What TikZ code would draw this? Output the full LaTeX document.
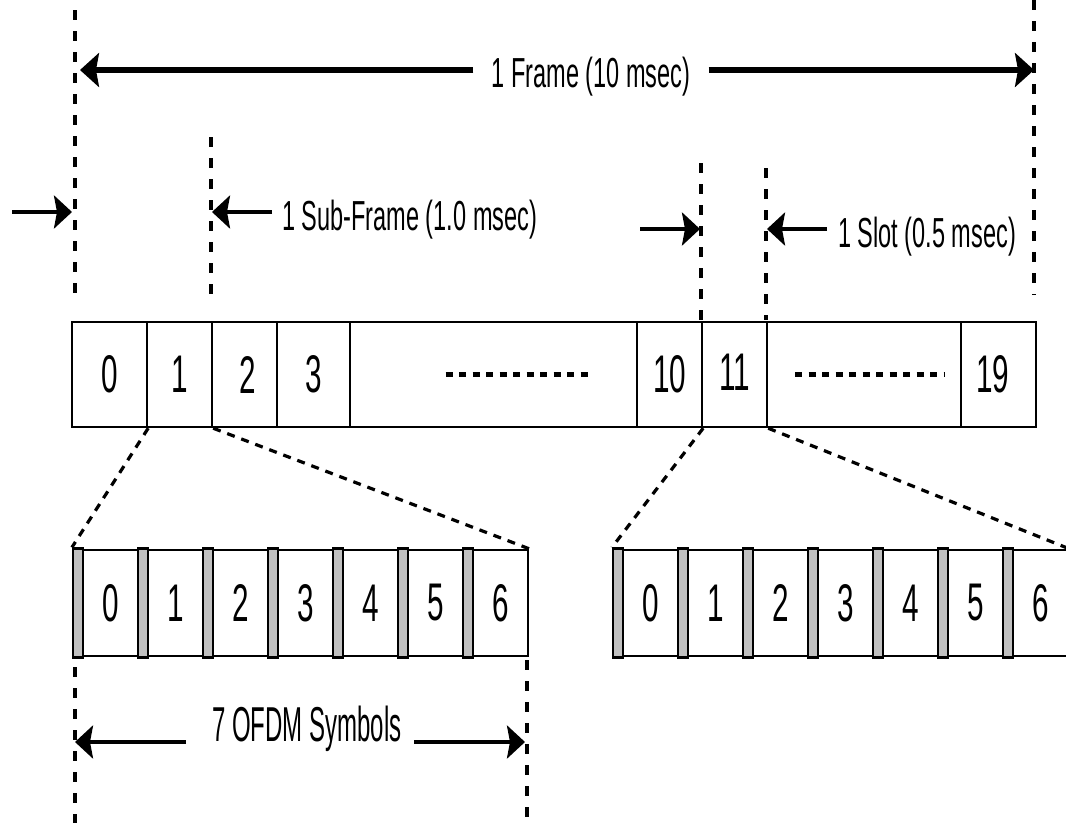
\documentclass[tikz,border=0pt]{standalone}
\usepackage{fontspec}
\setmainfont{Liberation Sans}[FakeStretch=0.56]
\usetikzlibrary{arrows.meta}
\definecolor{cpgray}{RGB}{192,192,192}
\begin{document}
\begin{tikzpicture}[x=1pt,y=-1pt,
  guide/.style={line width=3.2pt, dash pattern=on 10pt off 11pt},
  slant/.style={line width=3.2pt, dash pattern=on 8pt off 7pt},
  dotrow/.style={line width=4.5pt, dash pattern=on 7pt off 6.5pt},
  bigarrow/.style={line width=5.5pt, -{Stealth[length=19pt,width=34pt,inset=3pt]}},
  smallarrow/.style={line width=4.5pt, -{Stealth[length=18pt,width=33pt,inset=3pt]}},
  cell/.style={draw, line width=2.4pt, inner sep=0pt, minimum height=105pt, font=\fontsize{53}{60}\selectfont},
  symbody/.style={draw, line width=2.4pt, inner sep=0pt, minimum width=55pt, minimum height=106pt, font=\fontsize{53}{60}\selectfont},
  cpbar/.style={draw, fill=cpgray, line width=2.2pt, inner sep=0pt, minimum width=10pt, minimum height=109pt},
  toplabel/.style={inner sep=0pt, font=\fontsize{42}{48}\selectfont}
  ]
\useasboundingbox (0,0) rectangle (1066,823);
\clip (0,0) rectangle (1066,823);

% ---- main frame bar ----
\node[cell, minimum width=75pt]  (c0)  at (109.5,374.5) {0};
\node[cell, minimum width=65pt]  (c1)  at (179.5,374.5) {1};
\node[cell, minimum width=65pt]  (c2)  at (244.5,374.5) {\hspace*{6pt}2};
\node[cell, minimum width=73pt]  (c3)  at (313.5,374.5) {3};
\node[cell, minimum width=287pt] (cd1) at (493.5,374.5) {};
\node[cell, minimum width=65pt]  (c10) at (669.5,374.5) {10};
\node[cell, minimum width=65pt]  (c11) at (734.5,374.5) {\raisebox{5pt}{11}};
\node[cell, minimum width=194pt] (cd2) at (864,374.5) {};
\node[cell, minimum width=75pt]  (c19) at (998.5,374.5) {19\hspace*{12pt}};
\draw[dotrow] ([xshift=-48pt]cd1.center) -- ([xshift=97pt]cd1.center);
\draw[dotrow] ([xshift=-69pt]cd2.center) -- ([xshift=80pt]cd2.center);

% ---- OFDM symbol rows ----
\foreach \k in {0,...,6} {
  \node[symbody] (ls\k) at ({73+65*\k+37.5},603) {\k};
  \node[cpbar]   (lcp\k) at ({73+65*\k+5},603) {};
  \node[symbody] (rs\k) at ({613+65*\k+37.5},603) {\k};
  \node[cpbar]   (rcp\k) at ({613+65*\k+5},603) {};
}

% ---- zoom connectors ----
\draw[slant] (c0.south east) -- (lcp0.north west);
\draw[slant] (c1.south east) -- (ls6.north east);
\draw[slant] (c10.south east) -- (rcp0.north west);
\draw[slant] (c11.south east) -- (rs6.north east);

% ---- vertical guides ----
\coordinate (g1t) at (75,10);   \coordinate (g1b) at (75,297);
\coordinate (g2t) at (1034,0);  \coordinate (g2b) at (1034,295);
\coordinate (g3t) at (211,137); \coordinate (g3b) at (211,303);
\coordinate (g4t) at (701,163); \coordinate (g4b) at (701,320);
\coordinate (g5t) at (766,168); \coordinate (g5b) at (766,320);
\coordinate (g6t) at (75,667);  \coordinate (g6b) at (75,823);
\coordinate (g7t) at (527,660); \coordinate (g7b) at (527,823);
\foreach \g in {1,...,7} { \draw[guide] (g\g t) -- (g\g b); }

% ---- labels ----
\node[toplabel, inner xsep=18pt, anchor=base] (frame) at (591,87) {1 Frame (10 msec)};
\node[toplabel, anchor=base west] (sub) at (282,230) {1 Sub-Frame (1.0 msec)};
\node[toplabel, anchor=base west] (slot) at (838,247) {1 Slot (0.5 msec)};
\node[inner sep=0pt, anchor=base west, font=\fontsize{49}{56}\selectfont] (ofdm) at (212,741) {\scalebox{0.875}[1]{7 OFDM Symbols}};

% ---- arrows ----
\coordinate (fL) at (80,70);   \coordinate (fR) at (1034,70);
\draw[bigarrow] (frame.west |- fL) -- (fL);
\draw[bigarrow] (frame.east |- fR) -- (fR);

\coordinate (sfA) at (12,212);  \coordinate (sfB) at (72,212);
\draw[smallarrow] (sfA) -- (sfB);
\coordinate (sfC) at (272,212); \coordinate (sfD) at (212,212);
\draw[smallarrow] (sfC) -- (sfD);

\coordinate (slA) at (640,229); \coordinate (slB) at (700,229);
\draw[smallarrow] (slA) -- (slB);
\coordinate (slC) at (827,229); \coordinate (slD) at (767,229);
\draw[smallarrow] (slC) -- (slD);

\coordinate (oL) at (75,742);  \coordinate (oR) at (525,742);
\coordinate (oA) at (186,742); \coordinate (oB) at (414,742);
\draw[smallarrow] (oA) -- (oL);
\draw[smallarrow] (oB) -- (oR);
\end{tikzpicture}
\end{document}
